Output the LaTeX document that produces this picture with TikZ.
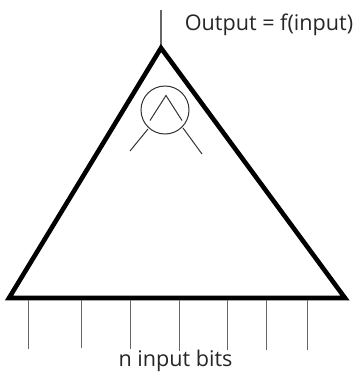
\documentclass[tikz,border=0pt]{standalone}
\usepackage{fontspec}
\setmainfont{Open Sans}
\tikzset{
  thickline/.style={line width=4.6pt,line join=miter,black},
  thinline/.style={line width=1pt,black!60},
  neuron/.style={line width=1pt,black!80},
  lbl/.style={inner sep=0pt,anchor=base,text=black!85,font=\fontsize{21.6pt}{24pt}\selectfont}
}
\begin{document}
\begin{tikzpicture}[x=1pt,y=-1pt]
\useasboundingbox (0,0) rectangle (354,372);
\coordinate (apex) at (161,48);
\coordinate (left) at (9,298);
\coordinate (right) at (345,298);
\coordinate (top) at (161,10);
\draw[thinline,line width=1.3pt] (top) -- (161,46);
\draw[thickline] (apex) -- (right) -- (left) -- cycle;
\node[circle,draw,neuron,minimum size=48pt,inner sep=0pt] (c) at (165,110) {};
\coordinate (il) at (150,120.5);
\coordinate (ia) at (166,95.5);
\coordinate (ir) at (182,120.5);
\draw[neuron] (il) -- (ia) -- (ir);
\coordinate (ol) at (130,151);
\coordinate (or) at (202,154);
\draw[neuron] (ol) -- (148,129);
\draw[neuron] (or) -- (183,128);
\foreach \i/\x/\e in {1/28/349,2/81.5/348,3/130/349,4/179/351,5/227.5/350,6/266/350,7/307/350}{
  \coordinate (b\i) at (\x,300);
  \coordinate (e\i) at (\x,\e);
  \draw[thinline] (b\i) -- (e\i);
}
\node[lbl] (out) at (269,30) {Output = f(input)};
\node[lbl] (in) at (175.5,366) {n input bits};
\end{tikzpicture}
\end{document}
